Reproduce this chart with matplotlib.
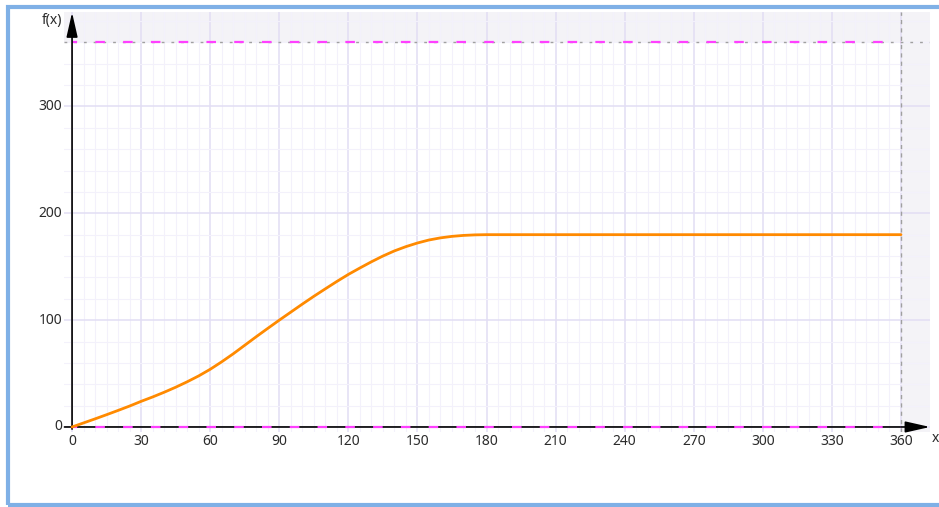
import matplotlib.pyplot as plt
from matplotlib.patches import Rectangle

# cam displacement curve f(x), read at 5 degree steps over the rise, then dwell
x_deg = [0, 5, 10, 15, 20, 25, 30, 35, 40, 45, 50, 55, 60, 65, 70, 75, 80, 85, 90,
         95, 100, 105, 110, 115, 120, 125, 130, 135, 140, 145, 150, 155, 160, 165,
         170, 175, 180, 360]
f_val = [0, 3.8, 7.6, 11.5, 15.5, 19.6, 24, 28.1, 32.5, 37.2, 42.3, 47.8, 54, 61,
         68.5, 76.5, 84.5, 92.3, 100, 107.5, 115, 122.3, 129.3, 136.2, 142.8, 148.8,
         154.6, 160, 164.8, 168.8, 172.2, 175, 177, 178.4, 179.3, 179.8, 180, 180]

x_labels = [0, 30, 60, 90, 120, 150, 180, 210, 240, 270, 300, 330, 360]
y_labels = [0, 100, 200, 300]
x_max = 360
y_max = 360

W, H = 939, 507
fig = plt.figure(figsize=(W / 100, H / 100), dpi=100)
plt.rcParams['font.family'] = ['Noto Sans', 'DejaVu Sans']

# window frame (open on the right)
frame = '#7fb0e6'
fig.add_artist(Rectangle((8 / W, 1 - 505 / H), 1.0, 498 / H, transform=fig.transFigure,
                         fill=False, ec=frame, lw=3))

ax = fig.add_axes([64 / W, 75 / H, 866 / W, 420 / H])
for s in ax.spines.values():
    s.set_visible(False)

# grid (ticks first, limits after, so the ticks don't widen the view)
ax.set_xticks(range(0, 361, 30))
ax.set_xticks(range(0, 361, 5), minor=True)
ax.set_yticks(range(0, 301, 100))
ax.set_yticks(range(0, 381, 20), minor=True)
ax.set_xlim(-3.5, 372.6)
ax.set_ylim(-4.7, 388.4)
ax.tick_params(which='both', length=0, labelbottom=False, labelleft=False)
ax.grid(which='major', color='#e2def4', lw=1.1, zorder=0)
ax.grid(which='minor', color='#f3f1fb', lw=0.8, zorder=0)
ax.set_axisbelow(True)

# shaded area outside the limits
shade = '#f3f1f6'
ax.axvspan(x_max, 380, color=shade, zorder=0.5, lw=0, alpha=0.85)
ax.axhspan(y_max, 400, xmax=(x_max + 3.5) / 376.1, color=shade, zorder=0.5, lw=0,
           alpha=0.85)

# limit lines
ax.axhline(y_max, color='#a0a0a0', lw=1, ls=(0, (2, 5)), zorder=1)
ax.axvline(x_max, color='#a0a0a0', lw=1, ls=(0, (3, 3)), zorder=1)

# axes with arrows
arrow = dict(arrowstyle='-|>,head_length=0.75,head_width=0.17', color='black', lw=1.2,
             mutation_scale=20, shrinkA=0, shrinkB=0)
ax.annotate('', xy=(372.6, 0), xytext=(-3.3, 0), arrowprops=arrow, zorder=3)
ax.annotate('', xy=(0, 388), xytext=(0, -2), arrowprops=arrow, zorder=3)

ax.plot([0, x_max], [y_max, y_max], color='#ff40ff', lw=1.6, ls=(2, (4.3, 8.2)), zorder=2)
ax.plot([0, x_max], [0, 0], color='#ff40ff', lw=1.6, ls=(2, (4.3, 8.2)), zorder=4)

ax.plot(x_deg, f_val, color='#ff8a00', lw=2.0, zorder=5, solid_capstyle='round')

# tick labels
tc = '#2b2b2b'
fs = 10
for v in x_labels:
    ax.annotate(str(v), (v, 0), xytext=(0, -5), textcoords='offset points',
                ha='center', va='top', fontsize=fs, color=tc)
for v in y_labels:
    ax.annotate(str(v), (0, v), xytext=(-7, 0), textcoords='offset points',
                ha='right', va='center', fontsize=fs, color=tc)
ax.annotate('f(x)', (0, 380), xytext=(-7, 0), textcoords='offset points',
            ha='right', va='center', fontsize=fs, color=tc)
ax.annotate('x', (372.6, 0), xytext=(1, -3), textcoords='offset points',
            ha='left', va='top', fontsize=fs, color=tc, annotation_clip=False)

fig.savefig('out.png', dpi=100)
